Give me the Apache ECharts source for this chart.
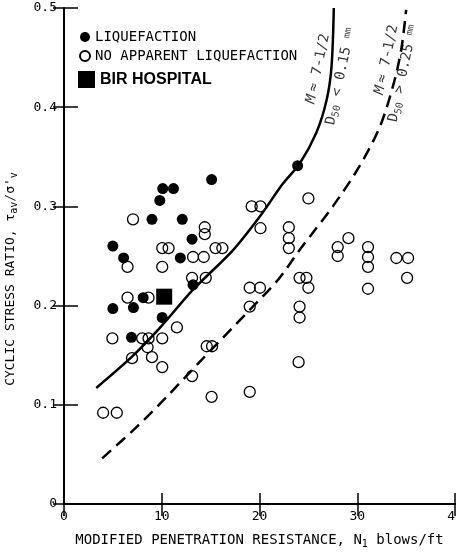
<!DOCTYPE html>
<html><head><meta charset="utf-8">
<script src="https://cdn.jsdelivr.net/npm/echarts@6/dist/echarts.min.js"></script>
<style>html,body{margin:0;padding:0;background:#fff}#c{width:456px;height:555px}</style>
</head><body><div id="c"></div>
<script>
// Observed data: [N1 blows/ft, cyclic stress ratio]
const liquefaction = [
  [15.1,0.327],[10.1,0.318],[11.2,0.318],[9.8,0.306],[9.0,0.287],[12.1,0.287],
  [13.1,0.267],[5.0,0.260],[6.1,0.248],[11.9,0.248],[13.2,0.221],[8.1,0.208],
  [5.0,0.197],[7.1,0.198],[10.05,0.188],[6.9,0.168],[23.9,0.341]
];
const noLiquefaction = [
  [7.06,0.287],[14.4,0.279],[14.4,0.272],[10.05,0.258],[10.7,0.258],[15.5,0.258],
  [16.2,0.258],[6.5,0.239],[10.05,0.239],[13.2,0.249],[14.3,0.249],[13.1,0.228],
  [14.5,0.228],[6.5,0.208],[8.65,0.208],[11.55,0.178],[4.95,0.167],[8.0,0.167],
  [8.65,0.167],[10.05,0.167],[8.55,0.158],[6.96,0.147],[9.0,0.148],[10.05,0.138],
  [13.1,0.129],[14.6,0.159],[15.15,0.159],[15.1,0.108],[4.0,0.092],[5.4,0.092],
  [19.2,0.300],[20.1,0.300],[25.0,0.308],[20.1,0.278],[23.0,0.279],[23.0,0.268],
  [23.0,0.258],[29.1,0.268],[28.0,0.259],[28.0,0.250],[19.0,0.218],[20.05,0.218],
  [24.1,0.228],[24.8,0.228],[25.0,0.218],[19.0,0.199],[24.1,0.199],[24.1,0.188],
  [31.1,0.259],[31.1,0.249],[31.1,0.239],[31.1,0.217],[34.0,0.248],[35.2,0.248],
  [35.1,0.228],[24.0,0.143],[19.0,0.113]
];
const birHospital = [[10.25,0.209]];
// Boundary curves
const boundaryFine = [
  [3.3,0.117],[6.96,0.1485],[9.85,0.178],[13.2,0.216],[17.3,0.256],[20.05,0.290],
  [22.4,0.323],[24.1,0.343],[25.8,0.374],[26.86,0.407],[27.37,0.441],[27.6,0.500]
];
const boundaryCoarse = [
  [3.9,0.046],[7.47,0.078],[10.5,0.108],[13.76,0.142],[19.03,0.196],[21.9,0.226],
  [24.1,0.256],[27.5,0.300],[30.2,0.340],[32.3,0.380],[33.65,0.421],[34.5,0.458],[35.0,0.498]
];
const xTicks = [0,10,20,30,40];
const yTicks = [0,0.1,0.2,0.3,0.4,0.5];

const MONO = 'DejaVu Sans Mono';
const chart = echarts.init(document.getElementById('c'), null, {renderer:'canvas'});
const curveRich = {
  t:{fontFamily:MONO,fontSize:14,color:'#000'},
  it:{fontFamily:MONO,fontSize:14,fontStyle:'italic',color:'#000'},
  sub:{fontFamily:MONO,fontSize:10,color:'#000',padding:[7,0,0,0]},
  sm:{fontFamily:MONO,fontSize:9,color:'#000',padding:[0,0,4,0]}
};
const option = {
  animation:false,
  backgroundColor:'#fff',
  grid:{left:64,right:1,top:8,bottom:51,containLabel:false,outerBoundsMode:'none'},
  legend:[
    {data:[{name:'LIQUEFACTION'},{name:'NO APPARENT LIQUEFACTION'}],orient:'vertical',
     left:79,top:30,padding:0,itemWidth:10,itemHeight:10,itemGap:5,selectedMode:false,icon:'circle',
     textStyle:{fontFamily:MONO,fontSize:14,color:'#000'}},
    {data:[{name:'BIR HOSPITAL'}],left:78,top:71,padding:0,itemWidth:17,itemHeight:17,selectedMode:false,icon:'rect',
     itemGap:8,textStyle:{fontFamily:'Liberation Sans',fontWeight:'bold',fontSize:16,color:'#000'}}
  ],
  xAxis:[
    {type:'value',min:xTicks[0],max:xTicks[xTicks.length-1],interval:10,position:'bottom',
     axisLine:{show:true,lineStyle:{color:'#000',width:2}},
     axisTick:{show:true,inside:true,length:11,lineStyle:{color:'#000',width:1.5}},
     axisLabel:{margin:6,fontFamily:MONO,fontSize:13,color:'#000'},
     splitLine:{show:false},
     name:'MODIFIED PENETRATION RESISTANCE, N{sub|1} blows/ft',
     nameLocation:'middle',nameGap:27,
     nameTextStyle:{fontFamily:MONO,fontSize:14,color:'#000',
       rich:{sub:{fontFamily:MONO,fontSize:10,color:'#000',padding:[8,0,0,0]}}}},
    {type:'value',min:xTicks[0],max:xTicks[xTicks.length-1],interval:10,position:'top',
     axisLine:{show:true,lineStyle:{color:'#000',width:2}},
     axisTick:{show:true,inside:true,length:12,lineStyle:{color:'#000',width:1.5}},
     axisLabel:{show:false},splitLine:{show:false}}
  ],
  yAxis:[
    {type:'value',min:yTicks[0],max:yTicks[yTicks.length-1],interval:0.1,position:'left',
     axisLine:{show:true,lineStyle:{color:'#000',width:2}},
     axisTick:{show:true,inside:true,length:14,lineStyle:{color:'#000',width:1.5}},
     axisLabel:{margin:7,fontFamily:MONO,fontSize:13,color:'#000'},
     splitLine:{show:false},
     name:"CYCLIC STRESS RATIO, τ{sub|av}/σ'{sub|v}",
     nameLocation:'middle',nameGap:45,nameRotate:90,
     nameTextStyle:{fontFamily:MONO,fontSize:13,color:'#000',padding:[0,46,0,0],
       rich:{sub:{fontFamily:MONO,fontSize:10,color:'#000',padding:[7,0,0,0]}}}},
    {type:'value',min:yTicks[0],max:yTicks[yTicks.length-1],interval:0.1,position:'right',
     axisLine:{show:false},
     axisTick:{show:true,inside:true,length:11,lineStyle:{color:'#000',width:1.5}},
     axisLabel:{show:false},splitLine:{show:false}}
  ],
  series:[
    {type:'line',data:boundaryFine,smooth:0.3,showSymbol:false,silent:true,
     lineStyle:{color:'#000',width:2.5},z:2},
    {type:'line',data:boundaryCoarse,smooth:0.3,showSymbol:false,silent:true,
     lineStyle:{color:'#000',width:2.5,type:[12,7]},z:2},
    {name:'LIQUEFACTION',type:'scatter',data:liquefaction,symbol:'circle',symbolSize:11,
     itemStyle:{color:'#000',opacity:1},z:3},
    {name:'NO APPARENT LIQUEFACTION',type:'scatter',data:noLiquefaction,symbol:'circle',symbolSize:11,
     itemStyle:{color:'rgba(255,255,255,0)',borderColor:'#000',borderWidth:1.3,opacity:1},z:3},
    {name:'BIR HOSPITAL',type:'scatter',data:birHospital,symbol:'rect',symbolSize:16,
     itemStyle:{color:'#000',opacity:1},z:4},
    {type:'scatter',symbolSize:0,silent:true,z:5,
     label:{show:true,position:'inside',rotate:78,align:'center',verticalAlign:'middle',rich:curveRich},
     data:[
       {value:[26.0,0.439],label:{formatter:'{it|M} {t|≈ 7-1/2}'}},
       {value:[28.3,0.431],label:{formatter:'{t|D}{sub|50}{t| < 0.15 }{sm|mm}'}},
       {value:[33.0,0.448],label:{formatter:'{it|M} {t|≈ 7-1/2}'}},
       {value:[34.7,0.434],label:{formatter:'{t|D}{sub|50}{t| > 0.25 }{sm|mm}'}}
     ]}
  ]
};
chart.setOption(option);
</script></body></html>
